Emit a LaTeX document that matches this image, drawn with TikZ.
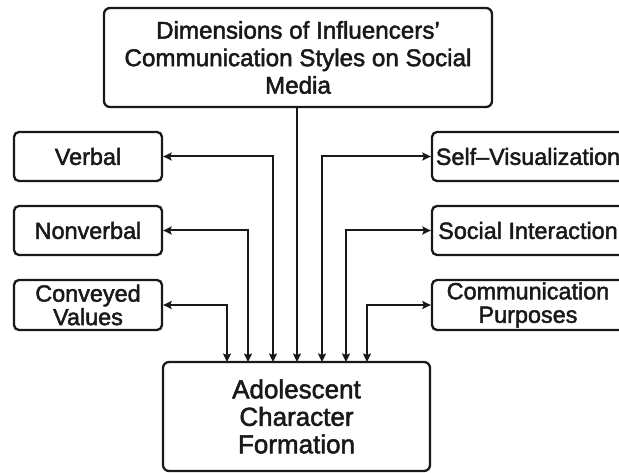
\documentclass[tikz,border=0pt]{standalone}
\usepackage{fontspec}
\newfontfamily\diafont{Liberation Sans}[FakeBold=2]
\usetikzlibrary{arrows.meta}
\tikzset{
  >={Stealth[length=8.5pt,width=8pt,inset=1.5pt]},
  box/.style={draw=black!90, line width=2.3pt, rounded corners=5pt, align=center,
              inner sep=0pt, text=black!90},
  sidebox/.style={box, minimum height=49pt,
              font=\diafont\fontsize{23.4}{23.5}\selectfont},
  leftbox/.style={sidebox, minimum width=148pt},
  rightbox/.style={sidebox, minimum width=192pt},
  conn/.style={draw=black!90, line width=2pt}
}
\begin{document}
\begin{tikzpicture}[x=1pt,y=-1pt]
  \clip (0,0) rectangle (619,473);
  \fill[white] (0,0) rectangle (619,473);

  % main boxes
  \node[box, rounded corners=6pt, minimum width=388pt, minimum height=99pt,
        font=\diafont\fontsize{24.2}{27.5}\selectfont] (top) at (298,57.5)
        {Dimensions of Influencers’\\Communication Styles on Social\\Media};
  \node[box, rounded corners=6pt, minimum width=267pt, minimum height=109pt,
        font=\diafont\fontsize{26}{27.5}\selectfont] (bot) at (296.5,416.5)
        {Adolescent\\Character\\Formation};

  % left boxes
  \node[leftbox] (verbal) at (88,156.5) {Verbal};
  \node[leftbox] (nonverbal) at (88,230.5) {Nonverbal};
  \node[leftbox, minimum height=50pt] (conveyed) at (88,305) {Conveyed\\Values};

  % right boxes
  \node[rightbox] (selfvis) at (528,156.5) {Self–Visualization};
  \node[rightbox] (social) at (528,230.5) {Social Interaction};
  \node[rightbox, minimum height=50pt] (purpose) at (528,305) {Communication\\Purposes};

  % anchor points on top of the bottom box
  \coordinate (b1) at (227,362);
  \coordinate (b2) at (248,362);
  \coordinate (b3) at (273,362);
  \coordinate (b4) at (322,362);
  \coordinate (b5) at (346,362);
  \coordinate (b6) at (367,362);
  \coordinate (tc) at (297,106.5);
  \coordinate (bc) at (297,362);

  % connectors
  \draw[conn,->] (tc) -- (bc);
  \draw[conn,<->] (verbal.east) -| (b3);
  \draw[conn,<->] (nonverbal.east) -| (b2);
  \draw[conn,<->] (conveyed.east) -| (b1);
  \draw[conn,<->] (selfvis.west) -| (b4);
  \draw[conn,<->] (social.west) -| (b5);
  \draw[conn,<->] (purpose.west) -| (b6);
\end{tikzpicture}
\end{document}
